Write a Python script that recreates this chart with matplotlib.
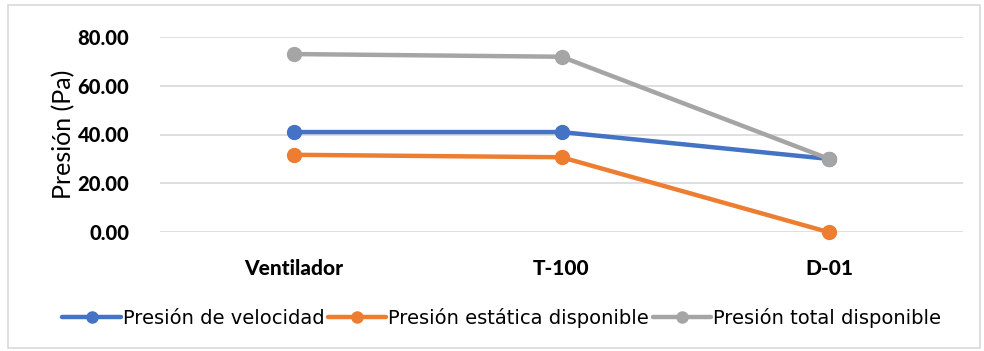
import matplotlib
matplotlib.use("Agg")
import matplotlib.pyplot as plt
from matplotlib.patches import Rectangle

categories = ["Ventilador", "T-100", "D-01"]
presion_velocidad = [41.0, 41.0, 30.0]
presion_estatica = [31.7, 30.7, 0.0]
presion_total = [72.9, 71.8, 30.0]
series_names = ["Presión de velocidad", "Presión estática disponible", "Presión total disponible"]
yticks = [0, 20, 40, 60, 80]

colors = ["#4472C4", "#ED7D31", "#A5A5A5"]

fig = plt.figure(figsize=(9.84, 3.51), dpi=100)
fig.patches.append(Rectangle((8 / 984, 3 / 351), 972 / 984, 343 / 351, transform=fig.transFigure,
                             fill=False, edgecolor="#D9D9D9", linewidth=1.2))

ax = fig.add_axes([160 / 984, 1 - 232.3 / 351, 803 / 984, 195.6 / 351])
x = range(len(categories))
for vals, c, name in zip([presion_velocidad, presion_estatica, presion_total], colors, series_names):
    ax.plot(x, vals, color=c, linewidth=3.2, marker="o", markersize=10, label=name,
            solid_capstyle="round", zorder=3)

ax.set_xlim(-0.5, 2.5)
ax.set_ylim(0, 80)
ax.set_yticks(yticks)
ax.set_yticklabels([f"{v:.2f}" for v in yticks], fontfamily="Lato", fontweight="black", fontsize=14.5)
ax.set_xticks(list(x))
ax.set_xticklabels(categories, fontfamily="Lato", fontweight="black", fontsize=15)
ax.tick_params(axis="both", length=0)
ax.tick_params(axis="y", pad=22)
ax.tick_params(axis="x", pad=19)
ax.grid(axis="y", color="#D9D9D9", linewidth=1.2, zorder=0)
ax.set_axisbelow(True)
for s in ax.spines.values():
    s.set_visible(False)
for line in ax.lines:
    line.set_clip_on(False)

ax.set_ylabel("Presión (Pa)", fontfamily="Lato", fontsize=18, labelpad=2)

leg = fig.legend(loc="center", bbox_to_anchor=(0.51, 1 - 318 / 351), ncol=3, frameon=False,
                 prop={"family": ["Liberation Sans Narrow", "DejaVu Sans"], "size": 14},
                 handlelength=3.0, handletextpad=0.1, columnspacing=0.2, markerscale=0.8)

fig.savefig("out.png", dpi=100)
